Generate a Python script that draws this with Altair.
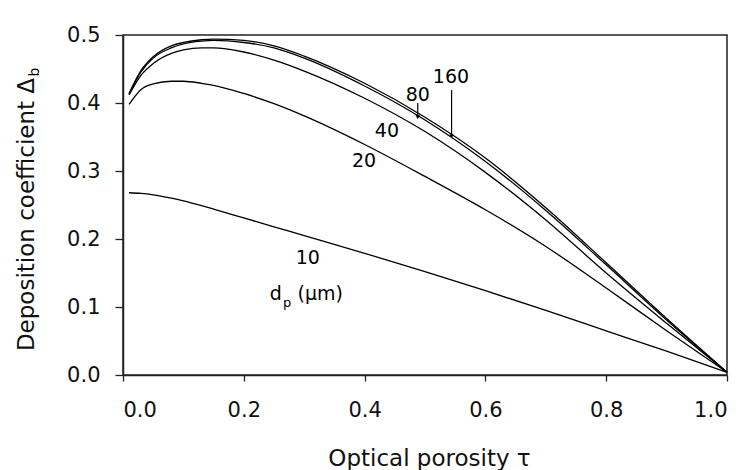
import altair as alt
import pandas as pd

# ---- data ----
tau = [0.01, 0.03, 0.05, 0.08, 0.10, 0.13, 0.15, 0.20, 0.25, 0.30,
       0.40, 0.50, 0.60, 0.70, 0.80, 0.90, 1.00]
d10 = [0.268, 0.267, 0.265, 0.260, 0.256, 0.249, 0.244, 0.231, 0.218, 0.205,
       0.179, 0.152, 0.124, 0.095, 0.065, 0.035, 0.004]
d20 = [0.398, 0.420, 0.428, 0.432, 0.432, 0.429, 0.426, 0.414, 0.399, 0.381,
       0.339, 0.292, 0.243, 0.189, 0.128, 0.065, 0.004]
d40 = [0.412, 0.441, 0.458, 0.473, 0.478, 0.481, 0.481, 0.475, 0.463, 0.447,
       0.407, 0.358, 0.298, 0.228, 0.150, 0.076, 0.004]
d80 = [0.413, 0.446, 0.466, 0.481, 0.487, 0.491, 0.492, 0.489, 0.481, 0.466,
       0.425, 0.375, 0.314, 0.242, 0.162, 0.081, 0.004]
d160 = [0.414, 0.448, 0.468, 0.484, 0.489, 0.493, 0.494, 0.492, 0.484, 0.469,
        0.429, 0.379, 0.319, 0.246, 0.165, 0.083, 0.004]
sizes = ["10", "20", "40", "80", "160"]
series = [d10, d20, d40, d80, d160]

x_ticks = [0.0, 0.2, 0.4, 0.6, 0.8, 1.0]
y_ticks = [0.0, 0.1, 0.2, 0.3, 0.4, 0.5]

# curve labels (text, tau, delta)
lab_text = ["160", "80", "40", "20", "10"]
lab_tau = [0.543, 0.488, 0.437, 0.399, 0.306]
lab_delta = [0.438, 0.412, 0.359, 0.315, 0.172]

# leader lines for 80 and 160
lead_tau = [0.488, 0.544]
lead_top = [0.400, 0.419]
lead_bot = [0.379, 0.351]

rows = []
for name, vals in zip(sizes, series):
    for t, v in zip(tau, vals):
        rows.append({"tau": t, "delta": v, "dp": name})
df = pd.DataFrame(rows)

FONT = "DejaVu Sans"

xenc = alt.X("tau:Q", scale=alt.Scale(domain=[0, 1], nice=False),
             axis=alt.Axis(values=x_ticks, format=".1f", title="Optical porosity τ",
                           titleY=90, titleX=306, titleBaseline="alphabetic",
                           tickSize=6, labelPadding=18))
yenc = alt.Y("delta:Q", scale=alt.Scale(domain=[0, 0.5], nice=False),
             axis=alt.Axis(values=y_ticks, format=".1f", title="Deposition coefficient Δ",
                           titleX=-90, titleY=179, titleAngle=270,
                           titleBaseline="alphabetic", titleAlign="center",
                           tickSize=8, labelPadding=15))

lines = alt.Chart(df).mark_line(color="black", strokeWidth=1.3, interpolate="monotone").encode(
    x=xenc, y=yenc, detail="dp:N")

labels_df = pd.DataFrame({"text": lab_text, "tau": lab_tau, "delta": lab_delta})
labels = alt.Chart(labels_df).mark_text(font=FONT, fontSize=19, color="black",
                                        align="center", baseline="middle").encode(
    x="tau:Q", y="delta:Q", text="text:N")

lead_df = pd.DataFrame({"tau": lead_tau, "top": lead_top, "bot": lead_bot})
leads = alt.Chart(lead_df).mark_rule(color="black", strokeWidth=1.2).encode(
    x="tau:Q", y="top:Q", y2="bot:Q")
heads = alt.Chart(lead_df).mark_point(shape="triangle-down", filled=True, size=20,
                                      color="black", opacity=1).encode(
    x="tau:Q", y="bot:Q")

dp_df = pd.DataFrame({"text": ["d", "p", "(μm)"], "tau": [0.243, 0.265, 0.289],
                      "delta": [0.110, 0.100, 0.110]})
dp_main = alt.Chart(dp_df[dp_df.text != "p"]).mark_text(
    font=FONT, fontSize=19, color="black", align="left", baseline="alphabetic").encode(
    x="tau:Q", y="delta:Q", text="text:N")
dp_sub = alt.Chart(dp_df[dp_df.text == "p"]).mark_text(
    font=FONT, fontSize=13, color="black", align="left", baseline="alphabetic").encode(
    x="tau:Q", y="delta:Q", text="text:N")

ysub = alt.Chart(pd.DataFrame({"t": ["b"]})).mark_text(
    font=FONT, fontSize=14, color="black", angle=270, align="center",
    baseline="alphabetic").encode(
    x=alt.value(-84), y=alt.value(37), text="t:N")

chart = alt.layer(lines, leads, heads, labels, dp_main, dp_sub, ysub).properties(
    width=604, height=340,
    autosize=alt.AutoSizeParams(type="none"),
    padding={"left": 123, "top": 35, "right": 19, "bottom": 95},
).configure_view(
    stroke="#222", strokeWidth=1.5
).configure_axis(
    grid=False, domainColor="#222", domainWidth=1.5, tickColor="#222", tickWidth=1.3,
    labelFont=FONT, labelFontSize=21, labelColor="#111",
    titleFont=FONT, titleFontSize=23, titleColor="#111", titleFontWeight="normal"
)

chart.save("out.html", embed_options={"renderer": "svg", "actions": False})
